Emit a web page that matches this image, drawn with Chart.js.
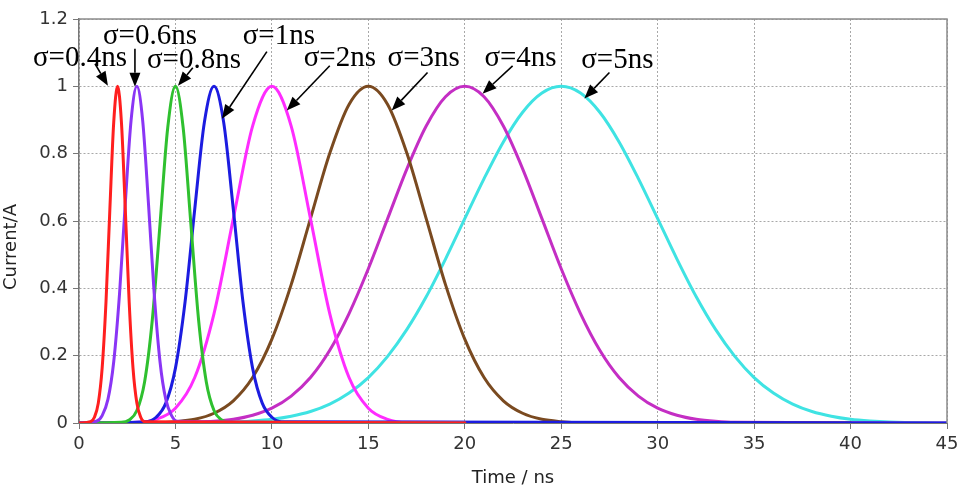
<!DOCTYPE html>
<html><head><meta charset="utf-8">
<script src="https://cdn.jsdelivr.net/npm/chart.js@4/dist/chart.umd.min.js"></script>
<style>html,body{margin:0;padding:0;background:#fff}#wrap{width:961px;height:490px}</style>
</head><body><div id="wrap"><canvas id="c" width="961" height="490"></canvas></div>
<script>
// ---- axis ticks ----
const xTicks = [0,5,10,15,20,25,30,35,40,45];
const xTickLabels = ['0','5','10','15','20','25','30','35','40','45'];
const yTicks = [0,0.2,0.4,0.6,0.8,1,1.2];
const yTickLabels = ['0','0.2','0.4','0.6','0.8','1','1.2'];
const xTitle = 'Time / ns';
const yTitle = 'Current/A';

// ---- series (time in ns, current in A) ----
const names = ['σ=0.4ns','σ=0.6ns','σ=0.8ns','σ=1ns','σ=2ns','σ=3ns','σ=4ns','σ=5ns'];
const colors = ['#ff1f1f','#8a35f5','#2fc02f','#1c1ce0','#ff2cff','#7a4a20','#c42ec4','#3fe3e3'];

const t04 = [0,0.6,0.8,1.0,1.2,1.4,1.6,1.8,2.0,2.2,2.4,2.6,2.8,3.0,3.2,3.4,20];
const i04 = [0,0.004,0.017,0.059,0.163,0.360,0.635,0.893,1,0.893,0.635,0.360,0.163,0.059,0.017,0.004,0];

const t06 = [0,0.9,1.2,1.5,1.8,2.1,2.4,2.7,3.0,3.3,3.6,3.9,4.2,4.5,4.8,5.1,20];
const i06 = [0,0.005,0.022,0.070,0.182,0.383,0.653,0.899,1,0.899,0.653,0.383,0.182,0.070,0.022,0.005,0];

const t08 = [0,2.2,2.6,3.0,3.4,3.8,4.2,4.6,5.0,5.4,5.8,6.2,6.6,7.0,7.4,7.8,20];
const i08 = [0,0.002,0.009,0.037,0.122,0.306,0.591,0.877,1,0.877,0.591,0.306,0.122,0.037,0.009,0.002,0];

const t1 = [0,3.5,4.0,4.5,5.0,5.5,6.0,6.5,7.0,7.5,8.0,8.5,9.0,9.5,10.0,10.5,45];
const i1 = [0,0.004,0.017,0.059,0.163,0.360,0.635,0.893,1,0.893,0.635,0.360,0.163,0.059,0.017,0.004,0];

const t2 = [0,3,4,5,6,7,8,9,10,11,12,13,14,15,16,17,30];
const i2 = [0,0.002,0.011,0.044,0.135,0.325,0.607,0.882,1,0.882,0.607,0.325,0.135,0.044,0.011,0.002,0];

const t3 = [0,4,5,6,7,8,9,10,11,12,13,14,15,16,17,18,19,20,21,22,23,24,25,26,40];
const i3 = [0,0.001,0.004,0.011,0.029,0.066,0.135,0.249,0.411,0.607,0.801,0.946,1,0.946,0.801,0.607,0.411,0.249,0.135,0.066,0.029,0.011,0.004,0.001,0];

const t4 = [0,6,7,8,9,10,11,12,13,14,15,16,17,18,19,20,21,22,23,24,25,26,27,28,29,30,31,32,33,34,45];
const i4 = [0,0.002,0.005,0.011,0.023,0.044,0.080,0.135,0.216,0.325,0.458,0.607,0.755,0.882,0.969,1,0.969,0.882,0.755,0.607,0.458,0.325,0.216,0.135,0.080,0.044,0.023,0.011,0.005,0.002,0];

const t5 = [0,8,9,10,11,12,13,14,15,16,17,18,19,20,21,22,23,24,25,26,27,28,29,30,31,32,33,34,35,36,37,38,39,40,41,42,45];
const i5 = [0,0.003,0.006,0.011,0.020,0.034,0.056,0.089,0.135,0.198,0.278,0.375,0.487,0.607,0.726,0.835,0.923,0.980,1,0.980,0.923,0.835,0.726,0.607,0.487,0.375,0.278,0.198,0.135,0.089,0.056,0.034,0.020,0.011,0.006,0.003,0];

const seriesT = [t04,t06,t08,t1,t2,t3,t4,t5];
const seriesI = [i04,i06,i08,i1,i2,i3,i4,i5];

// ---- annotations (data coordinates) ----
const labelX = [0.05,3.68,5.96,10.36,13.52,17.87,22.89,27.91];
const labelY = [1.061,1.127,1.055,1.127,1.061,1.061,1.061,1.055];
const arrowFromX = [0.83,2.90,5.90,9.74,13.0,18.07,22.48,27.50];
const arrowFromY = [1.067,1.112,1.055,1.103,1.061,1.041,1.061,1.041];
const arrowToX = [1.50,2.90,5.13,7.41,10.77,16.21,20.92,26.20];
const arrowToY = [1.002,0.999,1.002,0.904,0.928,0.928,0.978,0.964];

const datasets = names.map((n,k)=>({
  label: n,
  data: seriesT[k].map((t,j)=>({x:t, y:seriesI[k][j]})),
  borderColor: colors[k],
  borderWidth: 3,
  pointRadius: 0,
  fill: false,
  cubicInterpolationMode: 'monotone',
  borderJoinStyle: 'round',
  borderCapStyle: 'round'
}));

const overlay = {
  id: 'overlay',
  afterDraw(chart){
    const {ctx, chartArea:a, scales:{x,y}} = chart;
    ctx.save();
    // frame (top and right)
    ctx.strokeStyle = '#8c8c8c'; ctx.lineWidth = 1.5; ctx.setLineDash([]);
    ctx.beginPath();
    ctx.moveTo(a.left, a.top); ctx.lineTo(a.right, a.top); ctx.lineTo(a.right, a.bottom);
    ctx.stroke();
    // axis titles
    ctx.fillStyle = '#222';
    ctx.font = '18px "DejaVu Sans"';
    ctx.textAlign = 'center'; ctx.textBaseline = 'middle';
    ctx.fillText(xTitle, (a.left + a.right)/2, 478);
    ctx.save();
    ctx.translate(11, 247); ctx.rotate(-Math.PI/2);
    ctx.fillText(yTitle, 0, 0);
    ctx.restore();
    // annotations
    ctx.fillStyle = '#000'; ctx.strokeStyle = '#000';
    ctx.font = '29px "Liberation Serif"';
    ctx.textAlign = 'center'; ctx.textBaseline = 'alphabetic';
    names.forEach((n,k)=>{
      ctx.fillText(n, x.getPixelForValue(labelX[k]), y.getPixelForValue(labelY[k]));
      const x1 = x.getPixelForValue(arrowFromX[k]), y1 = y.getPixelForValue(arrowFromY[k]);
      const x2 = x.getPixelForValue(arrowToX[k]), y2 = y.getPixelForValue(arrowToY[k]);
      const ang = Math.atan2(y2-y1, x2-x1), L = 14, W = 5.5;
      const bx = x2 - L*Math.cos(ang), by = y2 - L*Math.sin(ang);
      ctx.lineWidth = 1.6;
      ctx.beginPath(); ctx.moveTo(x1,y1); ctx.lineTo(bx,by); ctx.stroke();
      ctx.beginPath();
      ctx.moveTo(x2,y2);
      ctx.lineTo(bx + W*Math.sin(ang), by - W*Math.cos(ang));
      ctx.lineTo(bx - W*Math.sin(ang), by + W*Math.cos(ang));
      ctx.closePath(); ctx.fill();
    });
    ctx.restore();
  }
};

new Chart(document.getElementById('c'), {
  type: 'line',
  data: { datasets },
  options: {
    responsive: false,
    devicePixelRatio: 1,
    animation: false,
    layout: { padding: { top: 19, right: 14, left: 0, bottom: 0 } },
    plugins: { legend: { display: false }, tooltip: { enabled: false } },
    scales: {
      x: {
        type: 'linear', min: 0, max: 45,
        afterBuildTicks: s => { s.ticks = xTicks.map(v=>({value:v})); },
        afterFit: s => { s.height = 67; s.paddingRight = 0; s.paddingLeft = 0; },
        ticks: { color: '#333', font: { family: 'DejaVu Sans', size: 18 }, padding: 5, maxRotation: 0,
                 callback: (v) => xTickLabels[xTicks.indexOf(v)] },
        grid: { color: '#a8a8a8', lineWidth: 1, tickLength: 6, tickColor: '#777', tickBorderDash: [] },
        border: { display: true, color: '#777', width: 1, dash: [2,2] }
      },
      y: {
        type: 'linear', min: 0, max: 1.2,
        afterBuildTicks: s => { s.ticks = yTicks.map(v=>({value:v})); },
        afterFit: s => { s.width = 79; s.paddingTop = 0; s.paddingBottom = 0; },
        ticks: { color: '#333', font: { family: 'DejaVu Sans', size: 18 }, padding: 5,
                 callback: (v) => yTickLabels[yTicks.indexOf(v)] },
        grid: { color: '#a8a8a8', lineWidth: 1, tickLength: 6, tickColor: '#777', tickBorderDash: [] },
        border: { display: true, color: '#777', width: 1.5, dash: [2,2] }
      }
    }
  },
  plugins: [overlay]
});
</script>
</body></html>
